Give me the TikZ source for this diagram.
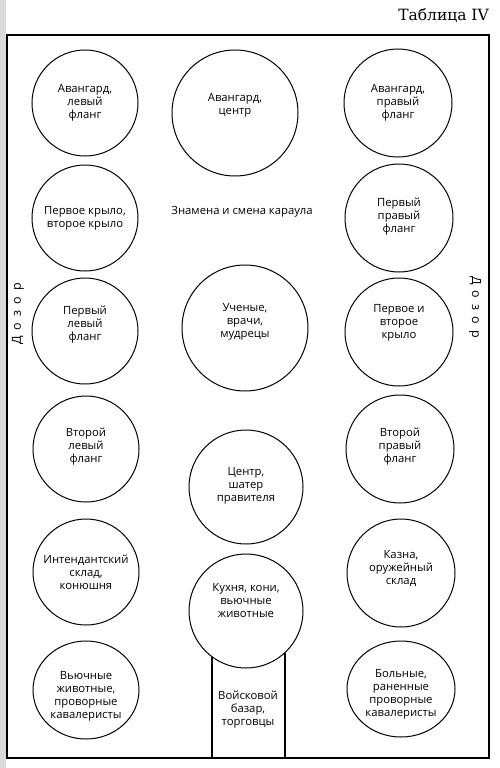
\documentclass[tikz,border=0pt]{standalone}
\usepackage{fontspec}
\newfontfamily\lblfamily{Open Sans}
\newfontfamily\titlefamily{DejaVu Serif}
\usetikzlibrary{calc,shapes.geometric}
\newcommand{\lblfont}{\lblfamily\fontsize{11.3}{13}\selectfont}
\begin{document}
\begin{tikzpicture}[x=1pt,y=-1pt,
  ring/.style={draw, circle, line width=1pt, inner sep=0pt, outer sep=0pt, minimum size=#1},
  oval/.style={draw, ellipse, line width=1pt, inner sep=0pt, outer sep=0pt},
  lbl/.style={align=center, font=\lblfont, inner sep=0pt},
  frameline/.style={line width=1.2pt}]
\useasboundingbox (0,0) rectangle (500,768);
\fill[gray!28] (0,0) rectangle (6,768);
\node[font=\titlefamily\fontsize{15.5}{18}\selectfont, anchor=base east, inner sep=0pt] (title) at (489,21) {Таблица IV};
\node[draw, frameline, anchor=north west, minimum width=482pt, minimum height=723pt, inner sep=0pt, outer sep=0pt] (frame) at (7,35) {};
% side labels
\node[lbl, font=\lblfamily\fontsize{12.5}{14}\selectfont, rotate=90] (dozorL) at (18,314) {Д\hspace{6pt}о\hspace{6pt}з\hspace{6pt}о\hspace{6pt}р};
\node[lbl, font=\lblfamily\fontsize{12.5}{14}\selectfont, rotate=-90] (dozorR) at (475,307) {Д\hspace{6pt}о\hspace{6pt}з\hspace{6pt}о\hspace{6pt}р};
% left column
\node[ring=106pt] (c11) at (85,103) {};
\node[lbl] (t11) at (85,103) {Авангард,\\левый\\фланг};
\node[ring=106pt] (c12) at (85,218) {};
\node[lbl] (t12) at (85,218) {Первое крыло,\\второе крыло};
\node[ring=106pt] (c13) at (85,331) {};
\node[lbl] (t13) at (85,325) {Первый\\левый\\фланг};
\node[ring=106pt] (c14) at (86,449) {};
\node[lbl] (t14) at (86,447) {Второй\\левый\\фланг};
\node[ring=106pt] (c15) at (86,572) {};
\node[lbl] (t15) at (86,572) {Интендантский\\склад,\\конюшня};
\node[oval, minimum width=106pt, minimum height=98pt] (c16) at (86,690) {};
\node[lbl] (t16) at (86,696) {Вьючные\\животные,\\проворные\\кавалеристы};
% center column
\node[ring=126pt] (c21) at (235,113) {};
\node[lbl] (t21) at (235,105) {Авангард,\\центр};
\node[lbl] (t22) at (242,212) {Знамена и смена караула};
\node[ring=126pt] (c23) at (245,328) {};
\node[lbl] (t23) at (245,322) {Ученые,\\врачи,\\мудрецы};
\node[ring=114pt] (c24) at (246,487) {};
\node[lbl] (t24) at (246,486) {Центр,\\шатер\\правителя};
\node[ring=114pt] (c25) at (246,611) {};
\node[lbl] (t25) at (246,601) {Кухня, кони,\\вьючные\\животные};
\coordinate (bz1) at ($(c25.center)+(-34,45.7)$);
\coordinate (bz2) at ($(c25.center)+(39,41.6)$);
\draw[frameline] (bz1) -- (bz1 |- frame.south);
\draw[frameline] (bz2) -- (bz2 |- frame.south);
\node[lbl] (t26) at (248,710) {Войсковой\\базар,\\торговцы};
% right column
\node[ring=108pt] (c31) at (398,103) {};
\node[lbl] (t31) at (398,103) {Авангард,\\правый\\фланг};
\node[ring=108pt] (c32) at (399,218) {};
\node[lbl] (t32) at (399,217) {Первый\\правый\\фланг};
\node[ring=108pt] (c33) at (399,332) {};
\node[lbl] (t33) at (399,323) {Первое и\\второе\\крыло};
\node[ring=108pt] (c34) at (400,449) {};
\node[lbl] (t34) at (400,447) {Второй\\правый\\фланг};
\node[ring=108pt] (c35) at (401,573) {};
\node[lbl] (t35) at (401,569) {Казна,\\оружейный\\склад};
\node[oval, minimum width=108pt, minimum height=96pt] (c36) at (401,689) {};
\node[lbl] (t36) at (401,694) {Больные,\\раненные\\проворные\\кавалеристы};
\end{tikzpicture}
\end{document}
